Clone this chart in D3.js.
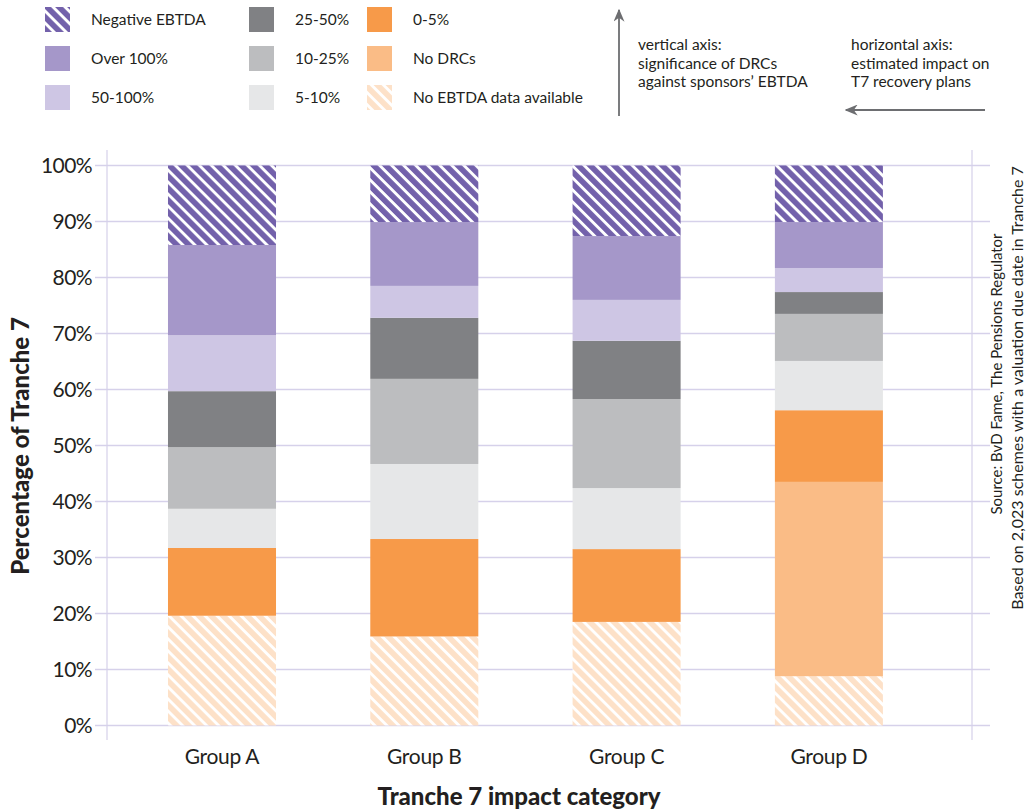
<!DOCTYPE html>
<html>
<head>
<meta charset="utf-8">
<script src="https://cdn.jsdelivr.net/npm/d3@7"></script>
<style>
  body { margin: 0; background: #fff; }
  text { font-family: Lato, "Noto Sans", sans-serif; fill: #231f20; }
</style>
</head>
<body>
<svg width="1027" height="809"></svg>
<script>
// categories and series (percent of Tranche 7), bottom to top
var groups = ["Group A", "Group B", "Group C", "Group D"];
var seriesNames = ["No EBTDA data available", "No DRCs", "0-5%", "5-10%", "10-25%", "25-50%", "50-100%", "Over 100%", "Negative EBTDA"];
var noEbtda    = [19.6, 15.9, 18.5, 8.8];
var noDrcs     = [0, 0, 0, 34.7];
var pct0to5    = [12.1, 17.4, 13.0, 12.8];
var pct5to10   = [7.0, 13.4, 10.9, 8.8];
var pct10to25  = [11.0, 15.2, 15.9, 8.4];
var pct25to50  = [10.0, 10.9, 10.4, 3.9];
var pct50to100 = [10.0, 5.7, 7.3, 4.3];
var over100    = [16.1, 11.4, 11.4, 8.2];
var negative   = [14.2, 10.1, 12.6, 10.1];
var yTicks = [0, 10, 20, 30, 40, 50, 60, 70, 80, 90, 100];

var seriesValues = [noEbtda, noDrcs, pct0to5, pct5to10, pct10to25, pct25to50, pct50to100, over100, negative];
var rows = groups.map(function(g, i) {
  var r = {group: g};
  seriesNames.forEach(function(s, j) { r[s] = seriesValues[j][i]; });
  return r;
});

var colors = {
  "No EBTDA data available": "url(#hatchOrange)",
  "No DRCs": "#fabc86",
  "0-5%": "#f79a49",
  "5-10%": "#e6e7e8",
  "10-25%": "#bcbdbf",
  "25-50%": "#808184",
  "50-100%": "#cec6e4",
  "Over 100%": "#a597c9",
  "Negative EBTDA": "url(#hatchPurple)"
};

var svg = d3.select("svg");
var defs = svg.append("defs");

function hatch(id, col) {
  var p = defs.append("pattern")
      .attr("id", id)
      .attr("patternUnits", "userSpaceOnUse")
      .attr("width", 8.5)
      .attr("height", 8.5)
      .attr("patternTransform", "rotate(-45)");
  p.append("rect").attr("width", 8.5).attr("height", 8.5).attr("fill", "#fff");
  p.append("rect").attr("x", 0).attr("width", 5.6).attr("height", 8.5).attr("fill", col);
}
hatch("hatchPurple", "#7361ab");
hatch("hatchOrange", "#fde1c8");

// scales
var x = d3.scaleBand()
    .domain(groups)
    .range([120.85, 930.05])
    .paddingInner(0.466)
    .paddingOuter(0.233);

var y = d3.scaleLinear()
    .domain([0, 100])
    .range([725.5, 165.5]);

// grid
var grid = svg.append("g");
grid.selectAll("line.h")
  .data(yTicks)
  .enter()
  .append("line")
    .attr("x1", 95)
    .attr("x2", 990)
    .attr("y1", function(d){ return y(d) })
    .attr("y2", function(d){ return y(d) })
    .attr("stroke", "#d6d1ea")
    .attr("stroke-width", 1.5);

grid.selectAll("line.v")
  .data([107, 972])
  .enter()
  .append("line")
    .attr("x1", function(d){ return d })
    .attr("x2", function(d){ return d })
    .attr("y1", 150)
    .attr("y2", 740)
    .attr("stroke", "#d6d1ea")
    .attr("stroke-width", 1.2);

// y tick labels
svg.append("g")
  .selectAll("text")
  .data(yTicks)
  .enter()
  .append("text")
    .attr("x", 92)
    .attr("y", function(d){ return y(d) })
    .attr("dy", "0.36em")
    .attr("text-anchor", "end")
    .attr("font-size", 21)
    .style("letter-spacing", "-0.6px")
    .text(function(d){ return d + "%" });

// stacked bars
var stacked = d3.stack().keys(seriesNames)(rows);

svg.append("g")
  .selectAll("g")
  .data(stacked)
  .enter()
  .append("g")
    .attr("fill", function(d){ return colors[d.key] })
  .selectAll("rect")
  .data(function(d){ return d })
  .enter()
  .append("rect")
    .attr("x", function(d){ return x(d.data.group) })
    .attr("y", function(d){ return y(d[1]) })
    .attr("width", x.bandwidth())
    .attr("height", function(d){ return y(d[0]) - y(d[1]) });

// group labels
svg.append("g")
  .selectAll("text")
  .data(groups)
  .enter()
  .append("text")
    .attr("x", function(d){ return x(d) + x.bandwidth() / 2 })
    .attr("y", 764)
    .attr("text-anchor", "middle")
    .attr("font-size", 21)
    .style("letter-spacing", "-0.3px")
    .text(function(d){ return d });

// axis titles
svg.append("text")
    .attr("x", 519)
    .attr("y", 805)
    .attr("text-anchor", "middle")
    .attr("font-size", 24)
    .attr("font-weight", 900)
    .text("Tranche 7 impact category");

svg.append("text")
    .attr("transform", "translate(29,446) rotate(-90)")
    .attr("text-anchor", "middle")
    .attr("font-size", 24)
    .attr("font-weight", 900)
    .text("Percentage of Tranche 7");

// source notes
svg.append("text")
    .attr("transform", "translate(1002,374) rotate(-90)")
    .attr("text-anchor", "middle")
    .attr("font-size", 15)
    .text("Source: BvD Fame, The Pensions Regulator");

svg.append("text")
    .attr("transform", "translate(1023,388) rotate(-90)")
    .attr("text-anchor", "middle")
    .attr("font-size", 16)
    .text("Based on 2,023 schemes with a valuation due date in Tranche 7");

// legend
var legendCols = [
  ["Negative EBTDA", "Over 100%", "50-100%"],
  ["25-50%", "10-25%", "5-10%"],
  ["0-5%", "No DRCs", "No EBTDA data available"]
];
var colX = [45, 249, 367];
var legend = svg.append("g");
legendCols.forEach(function(col, ci) {
  col.forEach(function(name, ri) {
    legend.append("rect")
      .attr("x", colX[ci])
      .attr("y", 7 + ri * 39)
      .attr("width", 25)
      .attr("height", 25)
      .attr("fill", colors[name]);
    legend.append("text")
      .attr("x", colX[ci] + 46)
      .attr("y", 19.5 + ri * 39)
      .attr("dy", "0.36em")
      .attr("font-size", 15.5)
      .text(name);
  });
});

// axis direction notes
defs.append("marker")
    .attr("id", "arrow")
    .attr("viewBox", "0 0 10 10")
    .attr("refX", 9)
    .attr("refY", 5)
    .attr("markerWidth", 13)
    .attr("markerHeight", 11)
    .attr("markerUnits", "userSpaceOnUse")
    .attr("orient", "auto")
    .attr("preserveAspectRatio", "none")
  .append("path")
    .attr("d", "M0,0 L10,5 L0,10 L3,5 Z")
    .attr("fill", "#6d6e71");

svg.append("line")
    .attr("x1", 619).attr("y1", 116)
    .attr("x2", 619).attr("y2", 10)
    .attr("stroke", "#6d6e71")
    .attr("stroke-width", 1.8)
    .attr("marker-end", "url(#arrow)");

svg.append("line")
    .attr("x1", 985).attr("y1", 110)
    .attr("x2", 846).attr("y2", 110)
    .attr("stroke", "#6d6e71")
    .attr("stroke-width", 1.8)
    .attr("marker-end", "url(#arrow)");

var vNote = ["vertical axis:", "significance of DRCs", "against sponsors\u2019 EBTDA"];
var hNote = ["horizontal axis:", "estimated impact on", "T7 recovery plans"];
[[vNote, 638], [hNote, 851]].forEach(function(n) {
  svg.append("g")
    .selectAll("text")
    .data(n[0])
    .enter()
    .append("text")
      .attr("x", n[1])
      .attr("y", function(d, i){ return 50 + i * 18.5 })
      .attr("font-size", 15.5)
      .text(function(d){ return d });
});
</script>
</body>
</html>
